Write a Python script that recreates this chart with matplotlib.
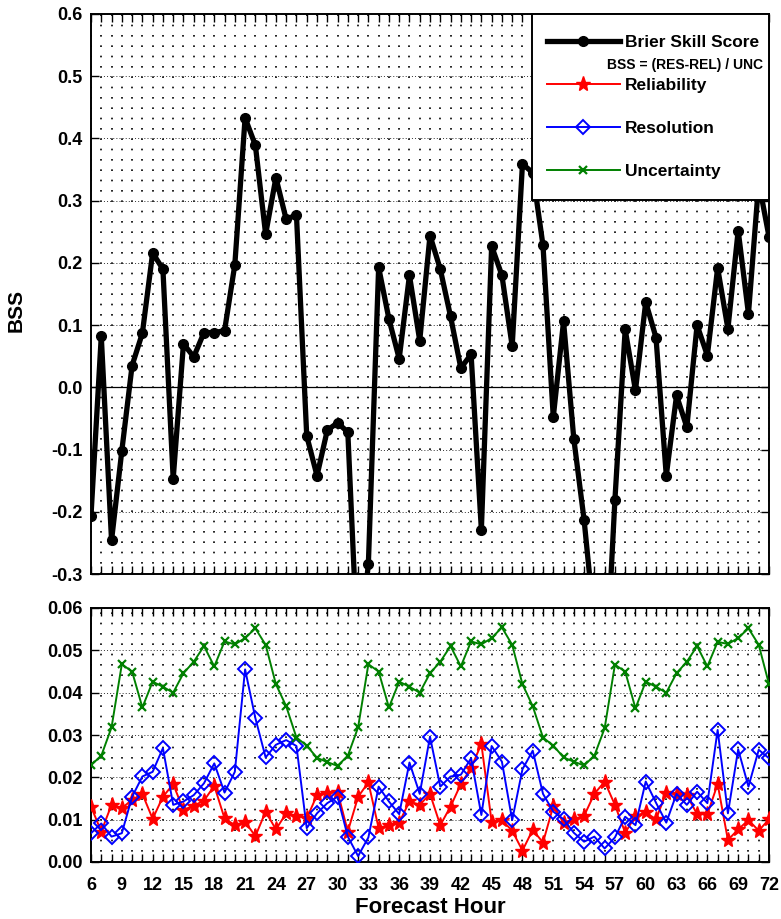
import matplotlib
matplotlib.use('Agg')
import matplotlib.pyplot as plt
from matplotlib.ticker import MultipleLocator, FormatStrFormatter
from matplotlib.lines import Line2D
from matplotlib.patches import Rectangle

plt.rcParams['font.family'] = ['Liberation Sans', 'DejaVu Sans']
plt.rcParams['font.weight'] = 'bold'

hours = list(range(6, 73))

bss = [-0.206, 0.082, -0.246, -0.102, 0.035, 0.087, 0.216, 0.190, -0.147, 0.070,
       0.049, 0.088, 0.088, 0.091, 0.197, 0.433, 0.389, 0.246, 0.337, 0.270,
       0.277, -0.078, -0.142, -0.069, -0.057, -0.072, -0.44, -0.284, 0.193, 0.110,
       0.046, 0.180, 0.075, 0.244, 0.190, 0.114, 0.031, 0.053, -0.229, 0.227,
       0.180, 0.066, 0.359, 0.345, 0.228, -0.048, 0.106, -0.083, -0.213, -0.38,
       -0.50, -0.181, 0.093, -0.005, 0.137, 0.080, -0.142, -0.013, -0.064, 0.100,
       0.051, 0.192, 0.094, 0.252, 0.118, 0.33, 0.242]

reliability = [0.0131, 0.0072, 0.0135, 0.0127, 0.0147, 0.0161, 0.0102, 0.0154, 0.0184, 0.0123,
               0.0133, 0.0145, 0.0180, 0.0103, 0.0087, 0.0095, 0.0061, 0.0119, 0.0077, 0.0115,
               0.0109, 0.0103, 0.0158, 0.0164, 0.0166, 0.0072, 0.0154, 0.0188, 0.0080, 0.0087,
               0.0093, 0.0143, 0.0135, 0.0161, 0.0087, 0.0131, 0.0184, 0.0222, 0.0279, 0.0095,
               0.0099, 0.0074, 0.0027, 0.0076, 0.0046, 0.0132, 0.0093, 0.0101, 0.0109, 0.0161,
               0.0190, 0.0135, 0.0069, 0.0109, 0.0117, 0.0101, 0.0164, 0.0161, 0.0158, 0.0113,
               0.0113, 0.0184, 0.0052, 0.0077, 0.0099, 0.0074, 0.0101]

resolution = [0.0068, 0.0091, 0.0060, 0.0068, 0.0154, 0.0202, 0.0213, 0.0269, 0.0135, 0.0143,
              0.0158, 0.0186, 0.0233, 0.0164, 0.0213, 0.0455, 0.0340, 0.0247, 0.0277, 0.0288,
              0.0274, 0.0080, 0.0115, 0.0139, 0.0154, 0.0060, 0.0014, 0.0058, 0.0178, 0.0143,
              0.0113, 0.0235, 0.0161, 0.0296, 0.0178, 0.0202, 0.0206, 0.0245, 0.0111, 0.0274,
              0.0237, 0.0099, 0.0219, 0.0263, 0.0161, 0.0119, 0.0101, 0.0069, 0.0048, 0.0060,
              0.0032, 0.0058, 0.0107, 0.0087, 0.0190, 0.0140, 0.0093, 0.0161, 0.0135, 0.0166,
              0.0139, 0.0312, 0.0115, 0.0266, 0.0178, 0.0265, 0.0245]

uncertainty = [0.0229, 0.0251, 0.0318, 0.0467, 0.0450, 0.0365, 0.0426, 0.0414, 0.0400, 0.0446,
               0.0473, 0.0510, 0.0462, 0.0521, 0.0514, 0.0529, 0.0552, 0.0513, 0.0420, 0.0368,
               0.0294, 0.0275, 0.0246, 0.0236,
               0.0227, 0.0251, 0.0318, 0.0467, 0.0450, 0.0365, 0.0426, 0.0414, 0.0400, 0.0446,
               0.0473, 0.0510, 0.0462, 0.0521, 0.0514, 0.0529, 0.0554, 0.0513, 0.0420, 0.0368,
               0.0294, 0.0275, 0.0247, 0.0237,
               0.0228, 0.0251, 0.0316, 0.0466, 0.0450, 0.0363, 0.0426, 0.0414, 0.0400, 0.0446,
               0.0473, 0.0510, 0.0462, 0.0520, 0.0515, 0.0529, 0.0552, 0.0513, 0.0420]

xtick_hours = list(range(6, 73, 3))

GREEN = '#008000'
fig = plt.figure(figsize=(7.81, 9.19), dpi=100)
W, H = 781.0, 919.0
ax1 = fig.add_axes([91 / W, 1 - 574 / H, 678 / W, 560 / H])
ax2 = fig.add_axes([91 / W, 1 - 862 / H, 678 / W, 254 / H])

vdots = (0, (1.0, 5.2))
hdots = (0, (1.0, 2.2))

for ax in (ax1, ax2):
    ax.set_xlim(6, 72)
    ax.set_xticks(xtick_hours)
    ax.set_xticks(hours, minor=True)
    ax.grid(True, which='both', axis='x', linestyle=vdots, color='k', linewidth=1.2)
    ax.grid(True, which='major', axis='y', linestyle=hdots, color='0.2', linewidth=0.7)
    ax.tick_params(which='both', direction='in', top=True, right=True,
                   length=6, width=1.0, labelsize=13)
    ax.tick_params(axis='y', which='major', pad=6)
    ax.tick_params(axis='x', which='major', pad=11)
    ax.tick_params(axis='y', which='minor', left=False, right=False)
    for s in ax.spines.values():
        s.set_linewidth(1.4)
    ax.set_axisbelow(True)

# Top panel: BSS
ax1.set_ylim(-0.3, 0.6)
ax1.yaxis.set_major_locator(MultipleLocator(0.1))
ax1.yaxis.set_major_formatter(FormatStrFormatter('%.1f'))
ax1.tick_params(labelbottom=False)
ax1.axhline(0, color='k', linewidth=0.9, zorder=2)
ax1.plot(hours, bss, color='k', linewidth=3.8, marker='o', markersize=7, zorder=3)
ax1.set_ylabel('BSS', fontsize=15, fontweight='bold')
ax1.yaxis.set_label_coords(-0.097, 0.47)

# Legend box (drawn separately for exact geometry)
box = Rectangle((0.6504, 0.668), 1.0 - 0.6504, 1.0 - 0.668, transform=ax1.transAxes,
                facecolor='white', edgecolor='k', linewidth=1.4, zorder=5, clip_on=False)
ax1.add_patch(box)

handles = [
    Line2D([], [], color='k', linewidth=3.8, marker='o', markersize=7),
    Line2D([], [], color='red', linewidth=1.4, marker='*', markersize=11),
    Line2D([], [], color='blue', linewidth=1.4, marker='D', markersize=7.5,
           markerfacecolor='none', markeredgewidth=1.4),
    Line2D([], [], color=GREEN, linewidth=1.4, marker='x', markersize=6,
           markeredgewidth=1.6),
]
labels = ['Brier Skill Score', 'Reliability', 'Resolution', 'Uncertainty']
leg = ax1.legend(handles, labels, loc='center', bbox_to_anchor=(0.829, 0.834),
                 borderaxespad=0.0, frameon=False,
                 prop={'size': 12.5, 'weight': 'bold'}, handlelength=4.2,
                 handletextpad=0.3, labelspacing=1.62, borderpad=0.0)
leg.set_zorder(6)
ax1.text(0.991, 0.909, 'BSS = (RES-REL) / UNC', transform=ax1.transAxes,
         ha='right', va='center', fontsize=10, fontweight='bold', zorder=7)

# Bottom panel: components
ax2.set_ylim(0.0, 0.06)
ax2.yaxis.set_major_locator(MultipleLocator(0.01))
ax2.yaxis.set_major_formatter(FormatStrFormatter('%.2f'))
ax2.plot(hours, reliability, color='red', linewidth=1.4, marker='*', markersize=11, zorder=3)
ax2.plot(hours, resolution, color='blue', linewidth=1.4, marker='D', markersize=7.5,
         markerfacecolor='none', markeredgewidth=1.4, zorder=3)
ax2.plot(hours, uncertainty, color=GREEN, linewidth=1.4, marker='x', markersize=6,
         markeredgewidth=1.6, zorder=3)
ax2.set_xlabel('Forecast Hour', fontsize=16, fontweight='bold', labelpad=2)

fig.savefig('out.png', dpi=100)
